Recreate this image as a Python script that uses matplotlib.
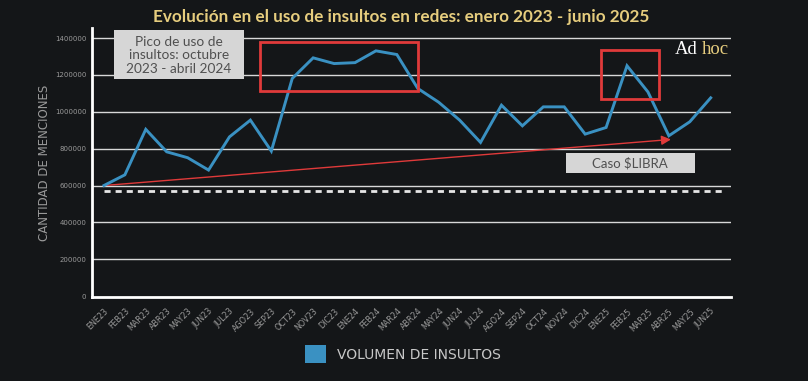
import matplotlib
matplotlib.use("Agg")
import matplotlib.pyplot as plt
from matplotlib.patches import Rectangle, Patch

# Monthly volume of insults (mentions), Jan 2023 - Jun 2025
months = ["ENE23", "FEB23", "MAR23", "ABR23", "MAY23", "JUN23", "JUL23", "AGO23",
          "SEP23", "OCT23", "NOV23", "DIC23", "ENE24", "FEB24", "MAR24", "ABR24",
          "MAY24", "JUN24", "JUL24", "AGO24", "SEP24", "OCT24", "NOV24", "DIC24",
          "ENE25", "FEB25", "MAR25", "ABR25", "MAY25", "JUN25"]
volume = [600000, 658000, 905000, 783000, 751000, 684000, 864000, 955000,
          787000, 1181000, 1293000, 1262000, 1267000, 1331000, 1311000, 1127000,
          1052000, 955000, 834000, 1036000, 924000, 1027000, 1027000, 879000,
          915000, 1250000, 1108000, 870000, 946000, 1076000]
y_ticks = [0, 200000, 400000, 600000, 800000, 1000000, 1200000, 1400000]

# reference line and trend arrow
baseline = 570000
trend_start = (0, 600000)
trend_end = (27.1, 850000)

# highlighted periods (x index range, y range)
box_peak = (7.45, 15.0, 1114000, 1380000)
box_libra = (23.78, 26.53, 1069000, 1335000)

bg = "#141618"
blue = "#3a91c2"
red = "#e03a3a"
gray_txt = "#9a9a9a"

fig = plt.figure(figsize=(8.08, 3.81), dpi=100, facecolor=bg)
ax = fig.add_axes([92 / 808, 1 - 297 / 381, (731 - 92) / 808, (297 - 28) / 381])
ax.set_facecolor(bg)

x = list(range(len(months)))
ax.set_xlim(-0.57, 29.97)
ax.set_ylim(-5000, 1455000)

# grid
for v in y_ticks[1:]:
    ax.axhline(v, color="#d8d8d8", lw=1.0, zorder=1)

ax.plot(x, volume, color=blue, lw=2.1, zorder=4, solid_joinstyle="miter")

ax.plot([x[0], x[-1] + 0.55], [baseline, baseline], color="#e6e6e6", lw=2.0,
        ls=(0, (2.2, 1.8)), zorder=3)

ax.annotate("", xy=trend_end, xytext=trend_start,
            arrowprops=dict(arrowstyle="-|>", color=red, lw=1.0,
                            mutation_scale=14, shrinkA=0, shrinkB=0), zorder=3)

for x0, x1, y0, y1 in (box_peak, box_libra):
    ax.add_patch(Rectangle((x0, y0), x1 - x0, y1 - y0, fill=False,
                           edgecolor=red, lw=2.0, zorder=5))

# text boxes
ax.add_patch(Rectangle((0.47, 1177000), 6.22, 266000, facecolor="#d6d6d6",
                       edgecolor="none", zorder=5, clip_on=False))
ax.text(3.58, 1308000, "Pico de uso de\ninsultos: octubre\n2023 - abril 2024",
        ha="center", va="center", fontsize=9.8, color="#505050",
        linespacing=1.15, zorder=6, family="Lato")
ax.add_patch(Rectangle((22.07, 667000), 6.17, 108000, facecolor="#d6d6d6",
                       edgecolor="none", zorder=5))
ax.text(25.15, 721000, "Caso $LIBRA", ha="center", va="center", fontsize=9.5,
        color="#505050", zorder=6, family="Lato")

# axes styling
for s in ("top", "right"):
    ax.spines[s].set_visible(False)
ax.spines["left"].set_color("white")
ax.spines["left"].set_linewidth(2)
ax.spines["bottom"].set_color("white")
ax.spines["bottom"].set_linewidth(2)
ax.set_yticks(y_ticks)
ax.set_yticklabels([str(v) for v in y_ticks], fontsize=5, color=gray_txt)
ax.set_xticks(x)
ax.set_xticklabels(months, rotation=45, ha="right", rotation_mode="anchor",
                   fontsize=5.8, color=gray_txt)
ax.tick_params(length=0, pad=4)
ax.tick_params(axis="x", pad=7)
ax.set_ylabel("CANTIDAD DE MENCIONES", fontsize=8.5, color=gray_txt, labelpad=3)

fig.text(0.497, 0.955, "Evolución en el uso de insultos en redes: enero 2023 - junio 2025",
         ha="center", va="center", fontsize=12.3, fontweight="bold", color="#e6cd7e",
         family="Lato")

# logo
fig.text(675 / 808, 1 - 49 / 381, "Ad", ha="left", va="center", fontsize=13.5,
         color="white", family="Liberation Serif")
fig.text(702 / 808, 1 - 49 / 381, "hoc", ha="left", va="center", fontsize=13.5,
         color="#e6cd7e", family="Liberation Serif")

fig.legend(handles=[Patch(facecolor=blue, edgecolor="none")],
           labels=["VOLUMEN DE INSULTOS"], loc="center",
           bbox_to_anchor=(403 / 808, 1 - 354 / 381), frameon=False,
           fontsize=10, handlelength=1.55, handleheight=1.55,
           handletextpad=0.8, labelcolor="#c8c8c8")

fig.savefig("out.png", dpi=100, facecolor=bg)
